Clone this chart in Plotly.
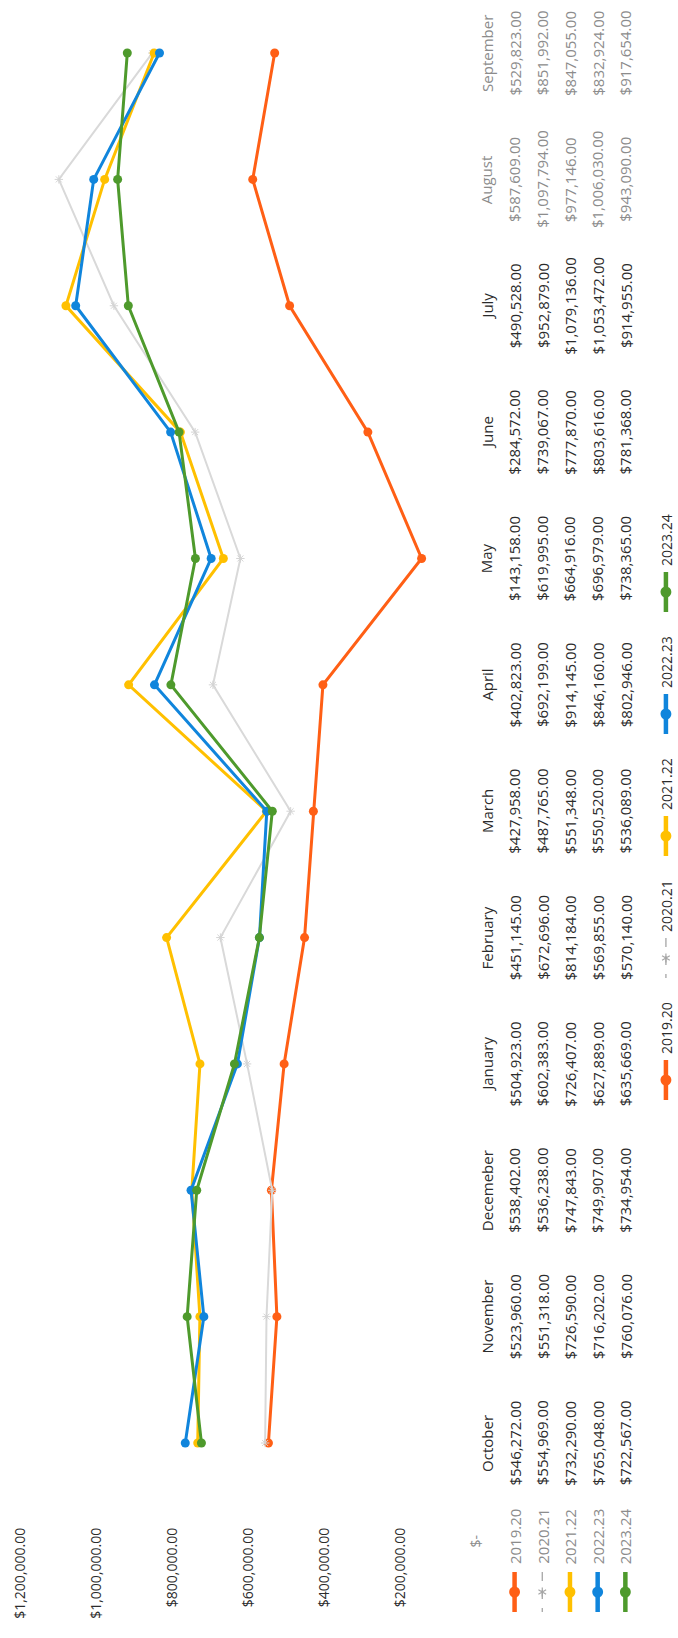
import math
import plotly.graph_objects as go

# ---------------- data ----------------
months = ["October", "November", "Decemeber", "January", "February", "March",
          "April", "May", "June", "July", "August", "September"]
series_names = ["2019.20", "2020.21", "2021.22", "2022.23", "2023.24"]
s2019_20 = [546272, 523960, 538402, 504923, 451145, 427958, 402823, 143158, 284572, 490528, 587609, 529823]
s2020_21 = [554969, 551318, 536238, 602383, 672696, 487765, 692199, 619995, 739067, 952879, 1097794, 851992]
s2021_22 = [732290, 726590, 747843, 726407, 814184, 551348, 914145, 664916, 777870, 1079136, 977146, 847055]
s2022_23 = [765048, 716202, 749907, 627889, 569855, 550520, 846160, 696979, 803616, 1053472, 1006030, 832924]
s2023_24 = [722567, 760076, 734954, 635669, 570140, 536089, 802946, 738365, 781368, 914955, 943090, 917654]
value_ticks = [0, 200000, 400000, 600000, 800000, 1000000, 1200000]
value_tick_labels = ["$-", "$200,000.00", "$400,000.00", "$600,000.00",
                     "$800,000.00", "$1,000,000.00", "$1,200,000.00"]

all_series = [s2019_20, s2020_21, s2021_22, s2022_23, s2023_24]

# ---------------- styles / layout ----------------
colors = ["#FF5F15", "#D9D9D9", "#FFC000", "#1085DC", "#4E9A2C"]
FONT = "Open Sans"
DARK = "#2B2B2B"
LIGHT = "#8C8C8C"

W, H = 678, 1638
L, R, T, B = 15, 202, 10, 114
PW = W - L - R
PH = H - T - B
ROW0 = 1443.0      # pixel of first category
STEP = 126.36      # pixel spacing of categories
y_lo = -((H - B) - ROW0) / STEP
y_hi = (ROW0 - T) / STEP


def px_x(px):
    return (px - L) / PW


def px_y(py):
    return ((H - B) - py) / PH


fig = go.Figure()
for name, vals, col in zip(series_names, all_series, colors):
    if name == "2020.21":
        fig.add_trace(go.Scatter(
            x=vals, y=months, mode="lines+markers", name=name,
            line=dict(color=col, width=2),
            marker=dict(symbol="asterisk-open", size=7, color="#D4D4D4",
                        line=dict(color="#D4D4D4", width=1)),
            hoverinfo="skip"))
    else:
        fig.add_trace(go.Scatter(
            x=vals, y=months, mode="lines+markers", name=name,
            line=dict(color=col, width=3),
            marker=dict(symbol="circle", size=9, color=col),
            hoverinfo="skip"))

shapes = []
annotations = []

# ---- data table (rotated) ----
month_x = 487
col_x = [515, 543, 571, 599, 627]
for i, m in enumerate(months):
    c = LIGHT if m in ("August", "September") else DARK
    annotations.append(dict(
        x=px_x(month_x), y=m, xref="paper", yref="y", text=m, textangle=-90,
        showarrow=False, xanchor="center", yanchor="middle",
        font=dict(family=FONT, size=15, color=c)))
    for j, vals in enumerate(all_series):
        annotations.append(dict(
            x=px_x(col_x[j]), y=m, xref="paper", yref="y",
            text="${:,.2f}".format(vals[i]), textangle=-90,
            showarrow=False, xanchor="center", yanchor="middle",
            font=dict(family=FONT, size=15, color=c)))


def key(cx, cy, idx, half=20):
    col = colors[idx]
    if series_names[idx] == "2020.21":
        shapes.append(dict(type="line", xref="paper", yref="paper",
                           x0=px_x(cx), x1=px_x(cx), y0=px_y(cy - half), y1=px_y(cy + half),
                           line=dict(color="#A6A6A6", width=1.3, dash="dash")))
        for ang in (0, 60, 120):
            a = math.radians(ang)
            dx, dy = 4.5 * math.sin(a), 4.5 * math.cos(a)
            shapes.append(dict(type="line", xref="paper", yref="paper",
                               x0=px_x(cx - dx), x1=px_x(cx + dx),
                               y0=px_y(cy - dy), y1=px_y(cy + dy),
                               line=dict(color="#A6A6A6", width=1.2)))
    else:
        shapes.append(dict(type="line", xref="paper", yref="paper",
                           x0=px_x(cx), x1=px_x(cx), y0=px_y(cy - half), y1=px_y(cy + half),
                           line=dict(color=col, width=4.5)))
        r = 5.5
        shapes.append(dict(type="circle", xref="paper", yref="paper",
                           x0=px_x(cx - r), x1=px_x(cx + r), y0=px_y(cy + r), y1=px_y(cy - r),
                           fillcolor=col, line=dict(color=col, width=0)))


# table row headers (series names with keys)
for j, name in enumerate(series_names):
    annotations.append(dict(
        x=px_x(col_x[j]), y=px_y(1566), xref="paper", yref="paper", text=name,
        textangle=-90, showarrow=False, xanchor="center", yanchor="bottom",
        font=dict(family=FONT, size=15, color=LIGHT)))
    key(col_x[j], 1592, j)

# ---- legend (rotated, right side) ----
leg_x = 668
leg_y = [1080, 958, 836, 714, 592]
for j, name in enumerate(series_names):
    key(leg_x, leg_y[j], j)
    annotations.append(dict(
        x=px_x(leg_x), y=px_y(leg_y[j] - 24), xref="paper", yref="paper", text=name,
        textangle=-90, showarrow=False, xanchor="center", yanchor="bottom",
        font=dict(family=FONT, size=14, color=DARK)))

ticktext = []
for v, lab in zip(value_ticks, value_tick_labels):
    if v == 0:
        ticktext.append("<span style='color:%s'>%s\u00a0\u00a0</span>" % (LIGHT, lab))
    else:
        ticktext.append(lab)

fig.update_layout(
    width=W, height=H,
    margin=dict(l=L, r=R, t=T, b=B, pad=0),
    paper_bgcolor="white", plot_bgcolor="white",
    showlegend=False, hovermode=False,
    font=dict(family=FONT, color=DARK),
    xaxis=dict(range=[1200000, 0], tickvals=value_ticks, ticktext=ticktext,
               tickangle=-90, showgrid=False, zeroline=False, showline=False,
               ticks="", tickfont=dict(family=FONT, size=14, color=DARK),
               fixedrange=True),
    yaxis=dict(type="category", categoryorder="array", categoryarray=months,
               range=[y_lo, y_hi], showticklabels=False, showgrid=False,
               zeroline=False, showline=False, ticks="", fixedrange=True),
    shapes=shapes, annotations=annotations,
)

fig.write_html("out.html")
